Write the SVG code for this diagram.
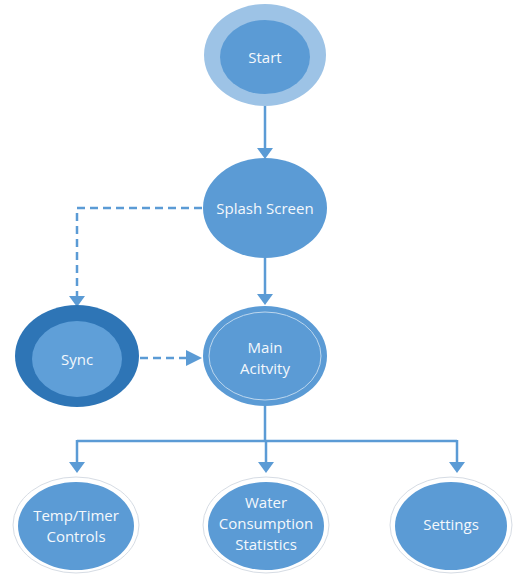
<svg xmlns="http://www.w3.org/2000/svg" width="513" height="574" viewBox="0 0 513 574">
<style>
.lbl{font-family:"Open Sans","Liberation Sans",sans-serif;font-size:15px;fill:#F4F8FC;text-anchor:middle;dominant-baseline:central}
.blue{fill:#5B9BD5}
.ln{stroke:#5B9BD5;stroke-width:2.5;fill:none}
.dash{stroke:#5B9BD5;stroke-width:2.5;fill:none;stroke-dasharray:8 5}
.ring{fill:#FFFFFF;stroke:#D6DCE4;stroke-width:1}
.head{fill:#5B9BD5}
</style>
<rect width="513" height="574" fill="#FFFFFF"/>
<g id="connectors">
<path class="ln" d="M265,106 V150"/>
<polygon class="head" points="257,148 273,148 265,159"/>
<path class="ln" d="M265,258 V296"/>
<polygon class="head" points="257,294 273,294 265,305"/>
<path class="dash" d="M202,208 H77 V297"/>
<polygon class="head" points="69,296 85,296 77,307"/>
<path class="dash" d="M140,358 H188"/>
<polygon class="head" points="186,350 186,366 202,358"/>
<path class="ln" d="M265,406 V441 M77,441 H457 M77,440 V463 M266,441 V463 M457,440 V463"/>
<polygon class="head" points="69,462 85,462 77,473"/>
<polygon class="head" points="258,462 274,462 266,473"/>
<polygon class="head" points="449,462 465,462 457,473"/>
</g>
<g id="start">
<ellipse cx="265" cy="55" rx="61" ry="51" fill="#9DC3E6"/>
<ellipse class="blue" cx="265" cy="57" rx="45" ry="37"/>
<text class="lbl" x="265" y="57">Start</text>
</g>
<g id="splash">
<ellipse class="blue" cx="265" cy="208" rx="62" ry="50"/>
<text class="lbl" x="265" y="208">Splash Screen</text>
</g>
<g id="main">
<ellipse class="blue" cx="265" cy="356" rx="62" ry="50"/>
<ellipse cx="265" cy="356" rx="56" ry="44" fill="none" stroke="#BDD7EE" stroke-width="1"/>
<text class="lbl" x="265" y="347">Main</text>
<text class="lbl" x="265" y="368">Acitvity</text>
</g>
<g id="sync">
<ellipse cx="77" cy="356" rx="62" ry="51" fill="#2E75B6"/>
<ellipse cx="77" cy="359" rx="45" ry="38" fill="#5F9FD8"/>
<text class="lbl" x="77" y="359">Sync</text>
</g>
<g id="temp">
<ellipse class="ring" cx="76" cy="525" rx="63" ry="48"/>
<ellipse class="blue" cx="76" cy="526" rx="58" ry="44"/>
<text class="lbl" x="76" y="515">Temp/Timer</text>
<text class="lbl" x="76" y="536">Controls</text>
</g>
<g id="water">
<ellipse class="ring" cx="266" cy="525" rx="63" ry="48"/>
<ellipse class="blue" cx="266" cy="526" rx="58" ry="44"/>
<text class="lbl" x="266" y="502">Water</text>
<text class="lbl" x="266" y="523">Consumption</text>
<text class="lbl" x="266" y="544">Statistics</text>
</g>
<g id="settings">
<ellipse class="ring" cx="451" cy="525" rx="61" ry="48"/>
<ellipse class="blue" cx="451" cy="526" rx="56" ry="44"/>
<text class="lbl" x="451" y="524">Settings</text>
</g>
</svg>
